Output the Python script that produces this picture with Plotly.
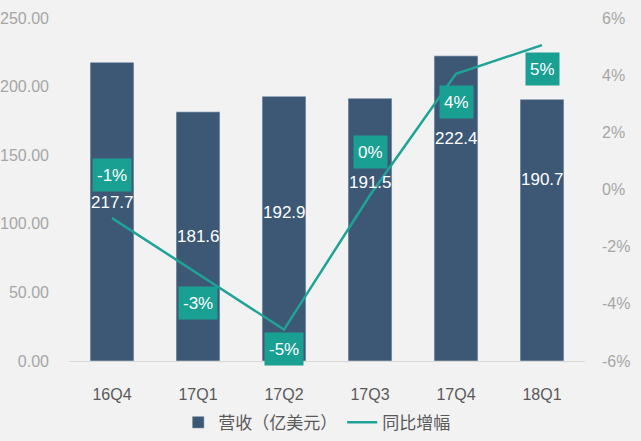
import plotly.graph_objects as go

categories = ["16Q4", "17Q1", "17Q2", "17Q3", "17Q4", "18Q1"]
revenue = [217.7, 181.6, 192.9, 191.5, 222.4, 190.7]
yoy_growth = [-1.0, -2.95, -4.9, -0.2, 4.05, 5.05]
yoy_labels = ["-1%", "-3%", "-5%", "0%", "4%", "5%"]
left_ticks = [0, 50, 100, 150, 200, 250]
right_ticks = [-6, -4, -2, 0, 2, 4, 6]

# label offsets (pixels), styling only
bar_label_shift = [-140, -125, -116, -84, -83, -80]
pct_label_shift = [43, -29, -19, 43, -28, -24]

BAR = "#3c5874"
TEAL = "#1fa397"
BOX = "#1a9f93"
BG = "#f2f2f2"
FONT = "Liberation Sans, Arial, Noto Sans CJK SC"

fig = go.Figure()
fig.add_trace(go.Bar(x=categories, y=revenue, name="营收（亿美元）",
                     marker_color=BAR, width=0.51, yaxis="y"))
fig.add_trace(go.Scatter(x=categories, y=yoy_growth, name="同比增幅",
                         mode="lines", line=dict(color=TEAL, width=2.5),
                         yaxis="y2"))

ann = []
for c, v, s in zip(categories, revenue, bar_label_shift):
    ann.append(dict(x=c, y=v, xref="x", yref="y", text=f"{v:.1f}",
                    showarrow=False, yshift=s,
                    font=dict(color="white", size=17, family=FONT)))
for c, v, t, s in zip(categories, yoy_growth, yoy_labels, pct_label_shift):
    ann.append(dict(x=c, y=v, xref="x", yref="y2", text=t,
                    showarrow=False, yshift=s, bgcolor=BOX, borderpad=4,
                    height=24,
                    font=dict(color="white", size=17, family=FONT)))

fig.update_layout(
    width=641, height=441,
    margin=dict(l=69, r=56, t=18, b=80, autoexpand=False),
    paper_bgcolor=BG, plot_bgcolor=BG,
    font=dict(family=FONT),
    bargap=0.49,
    showlegend=True,
    legend=dict(orientation="h", x=0.48, xanchor="center", y=-0.18,
                yanchor="middle", font=dict(size=17, color="#595959"),
                itemwidth=30, tracegroupgap=0),
    xaxis=dict(showgrid=False, showline=True, linecolor="#d9d9d9",
               automargin=False,
               tickfont=dict(size=16, color="#595959"), ticklabelstandoff=19),
    yaxis=dict(range=[0, 250], tickvals=left_ticks,
               ticktext=[f"{t:.2f}" for t in left_ticks],
               showgrid=False, zeroline=False, automargin=False,
               tickfont=dict(size=16, color="#a6a6a6"), ticklabelstandoff=19),
    yaxis2=dict(range=[-6, 6], tickvals=right_ticks,
                ticktext=[f"{t}%" for t in right_ticks],
                overlaying="y", side="right", showgrid=False, zeroline=False,
                automargin=False,
                tickfont=dict(size=16, color="#a6a6a6"), ticklabelstandoff=16),
    annotations=ann,
)

fig.write_html("out.html")
